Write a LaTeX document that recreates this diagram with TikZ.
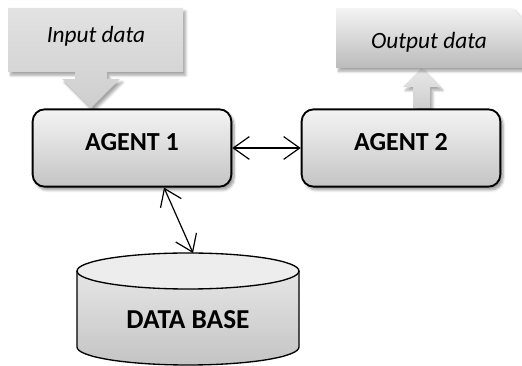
\documentclass[tikz,border=0pt]{standalone}
\usepackage{fontspec}
\setmainfont{Carlito}
\usetikzlibrary{arrows.meta,shadows.blur}
\definecolor{boxtop}{RGB}{244,244,244}
\definecolor{boxbot}{RGB}{196,196,196}
\definecolor{calltop}{RGB}{226,226,226}
\definecolor{callbot}{RGB}{206,206,206}

\tikzset{
  agentbox/.style={draw, line width=1.4pt, rounded corners=9pt, top color=boxtop, bottom color=boxbot,
    minimum width=149pt, minimum height=58pt, text depth=9pt,
    font=\fontsize{19.5}{22}\selectfont\bfseries,
    blur shadow={shadow xshift=2pt, shadow yshift=-2.5pt, shadow blur steps=6, shadow opacity=40}},
  callout/.style={top color=calltop, bottom color=callbot, draw=none,
    blur shadow={shadow xshift=2pt, shadow yshift=-2.5pt, shadow blur steps=6, shadow opacity=35}},
  calltext/.style={font=\fontsize{17.5}{20}\selectfont\itshape},
  link/.style={{Straight Barb[length=12pt,width=17pt]}-{Straight Barb[length=12pt,width=17pt]}, line width=0.9pt}
}

\begin{document}
\begin{tikzpicture}[x=0.75pt,y=0.75pt,yscale=-1,xscale=1]
\useasboundingbox (0,0) rectangle (522,366); %diagram is 522 wide and 366 high

%Shape: Down Arrow Callout
\draw [callout] (8,8) -- (183,8) -- (183,72) -- (107,72) -- (107,79) -- (120,79) -- (91,108) -- (62,79) -- (75,79) -- (75,72) -- (8,72) -- cycle ;
%Shape: Up Arrow
\draw [callout, top color=calltop!80!white, bottom color=callbot] (413,108) -- (413,87) -- (403,87) -- (421.5,68) -- (440,87) -- (430,87) -- (430,108) -- cycle ;
%Shape: Snip Corner Rectangle
\draw [callout, top color=boxtop, bottom color=boxbot!115] (336,8) -- (512,8) -- (526,22) -- (526,68) -- (336,68) -- cycle ;

%Shape: Can
\draw [line width=1pt, top color=boxtop!70!boxbot, bottom color=boxbot] (77,271) -- (77,347) arc [start angle=180, end angle=0, x radius=111, y radius=18] -- (299,271) ;
\draw [line width=1pt, fill=boxtop!85!boxbot] (188,271) ellipse [x radius=111, y radius=18] ;
\coordinate (dbtop) at (193,253) ;

% Text Node
\node (a1) [agentbox] at (132,148) {AGENT 1};
% Text Node
\node (a2) [agentbox] at (401,148) {AGENT 2};
% Text Node
\node (indata) [calltext] at (96,36) {Input data};
% Text Node
\node (outdata) [calltext] at (429,42) {Output data};
% Text Node
\node (db) [font=\fontsize{20.5}{24}\selectfont\bfseries] at (188,320) {DATA BASE};

%Straight Lines
\draw [link] (a1.east) -- (a2.west) ;
\draw [link] ([xshift=24pt]a1.south) -- (dbtop) ;

\end{tikzpicture}
\end{document}
